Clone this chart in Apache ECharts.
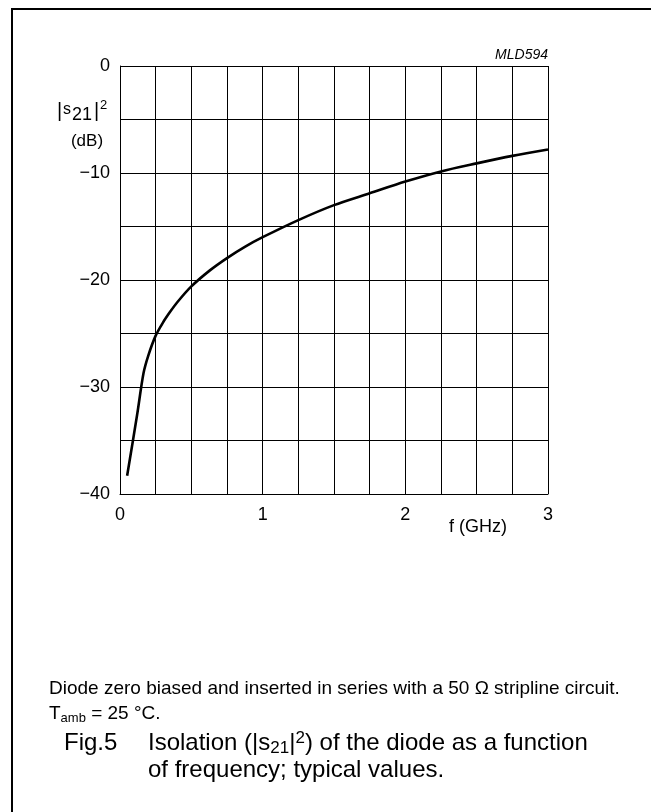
<!DOCTYPE html>
<html>
<head>
<meta charset="utf-8">
<script src="https://cdn.jsdelivr.net/npm/echarts@6/dist/echarts.min.js"></script>
<style>
html,body{margin:0;padding:0;background:#fff;}
#chart{width:651px;height:812px;}
</style>
</head>
<body>
<div id="chart"></div>
<script>
// Data
const freqGHz = [0.05, 0.12, 0.165, 0.2, 0.25, 0.3, 0.35, 0.4, 0.5, 0.63, 0.75, 0.875, 1.0, 1.25, 1.5, 1.75, 2.0, 2.25, 2.5, 2.75, 3.0];
const isolationDb = [-38.3, -32.6, -28.7, -27.0, -25.2, -24.0, -23.0, -22.1, -20.6, -19.1, -17.95, -16.9, -16.0, -14.4, -13.0, -11.9, -10.8, -9.85, -9.1, -8.4, -7.8];
const xTickLabels = ['0', '1', '2', '3'];
const yTickLabels = ['0', '\u221210', '\u221220', '\u221230', '\u221240'];

const FONT = 'Liberation Sans, Arial, Helvetica, sans-serif';
const chart = echarts.init(document.getElementById('chart'), null, {renderer: 'canvas'});

const seriesData = freqGHz.map((f, i) => [f, isolationDb[i]]);

chart.setOption({
  animation: false,
  backgroundColor: '#fff',
  grid: {left: 120, top: 66, width: 428, height: 428, containLabel: false},
  xAxis: {
    type: 'value', min: 0, max: 3, interval: 0.25,
    axisLine: {show: true, onZero: false, lineStyle: {color: '#000', width: 1}},
    axisTick: {show: false},
    splitLine: {show: true, lineStyle: {color: '#000', width: 1}},
    axisLabel: {
      color: '#000', fontSize: 18, fontFamily: FONT, margin: 12,
      formatter: v => (Math.abs(v - Math.round(v)) < 1e-9 ? xTickLabels[Math.round(v)] : '')
    }
  },
  yAxis: {
    type: 'value', min: -40, max: 0, interval: 5,
    axisLine: {show: true, onZero: false, lineStyle: {color: '#000', width: 1}},
    axisTick: {show: false},
    splitLine: {show: true, lineStyle: {color: '#000', width: 1}},
    axisLabel: {
      color: '#000', fontSize: 18, fontFamily: FONT, margin: 10,
      formatter: v => (v % 10 === 0 ? yTickLabels[Math.round(-v / 10)] : '')
    }
  },
  series: [{
    type: 'line', data: seriesData, smooth: 0.3, showSymbol: false,
    lineStyle: {color: '#000', width: 2.6}
  }],
  graphic: [
    {type: 'polyline', shape: {points: [[12, 812], [12, 9], [651, 9]]}, style: {stroke: '#000', lineWidth: 2, fill: null}},
    {type: 'text', x: 548, y: 55, style: {text: 'MLD594', font: 'italic 14px ' + FONT, fill: '#000', align: 'right', verticalAlign: 'middle'}},
    {type: 'text', x: 57, y: 111, style: {text: '|', font: '20px ' + FONT, fill: '#000', align: 'left', verticalAlign: 'middle'}},
    {type: 'text', x: 63, y: 109.5, style: {text: 's', font: '16px ' + FONT, fill: '#000', align: 'left', verticalAlign: 'middle'}},
    {type: 'text', x: 72, y: 115.5, style: {text: '21', font: '18px ' + FONT, fill: '#000', align: 'left', verticalAlign: 'middle'}},
    {type: 'text', x: 94, y: 111, style: {text: '|', font: '20px ' + FONT, fill: '#000', align: 'left', verticalAlign: 'middle'}},
    {type: 'text', x: 100, y: 105.5, style: {text: '2', font: '13px ' + FONT, fill: '#000', align: 'left', verticalAlign: 'middle'}},
    {type: 'text', x: 87, y: 141, style: {text: '(dB)', font: '17px ' + FONT, fill: '#000', align: 'center', verticalAlign: 'middle'}},
    {type: 'text', x: 478, y: 527, style: {text: 'f (GHz)', font: '18px ' + FONT, fill: '#000', align: 'center', verticalAlign: 'middle'}},
    {type: 'text', x: 49, y: 689, style: {text: 'Diode zero biased and inserted in series with a 50 \u03A9 stripline circuit.', font: '19px ' + FONT, fill: '#000', align: 'left', verticalAlign: 'middle'}},
    {type: 'text', x: 49, y: 714, style: {
      text: '{n|T}{s|amb}{n| = 25 \u00B0C.}', font: '19px ' + FONT, fill: '#000', align: 'left', verticalAlign: 'middle',
      rich: {n: {fontSize: 19, fontFamily: FONT, lineHeight: 22}, s: {fontSize: 13, fontFamily: FONT, lineHeight: 22, padding: [9, 0, 0, 0]}}
    }},
    {type: 'text', x: 64, y: 743, style: {text: 'Fig.5', font: '24px ' + FONT, fill: '#000', align: 'left', verticalAlign: 'middle'}},
    {type: 'text', x: 148, y: 743, style: {
      text: '{n|Isolation (|s}{sub|21}{n||}{sup|2}{n|) of the diode as a function}', font: '24px ' + FONT, fill: '#000', align: 'left', verticalAlign: 'middle',
      rich: {n: {fontSize: 24, fontFamily: FONT, lineHeight: 27}, sub: {fontSize: 17, fontFamily: FONT, lineHeight: 27, padding: [10,0,0,0]}, sup: {fontSize: 17, fontFamily: FONT, lineHeight: 27, padding: [0,0,10,0]}}
    }},
    {type: 'text', x: 148, y: 770, style: {text: 'of frequency; typical values.', font: '24px ' + FONT, fill: '#000', align: 'left', verticalAlign: 'middle'}}
  ]
});
</script>
</body>
</html>
